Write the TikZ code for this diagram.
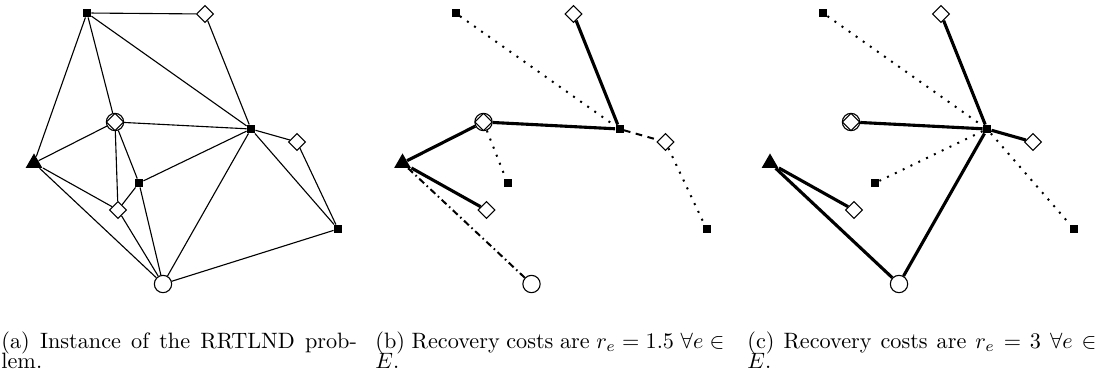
\documentclass[tikz,border=0pt]{standalone}
\usepackage{amsmath,amssymb}
\usepackage{tikz}
\usetikzlibrary{shapes.geometric}

\begin{document}
\begin{tikzpicture}[x=.45pt,y=-.45pt,
  term/.style={rectangle,fill=black,inner sep=0pt,minimum size=3.6pt},
  cust/.style={diamond,draw,fill=white,inner sep=0pt,minimum size=7.8pt,line width=.5pt},
  sink/.style={circle,draw,fill=white,inner sep=0pt,minimum size=7.8pt,line width=.5pt},
  hub/.style={sink,path picture={\draw[line width=.5pt]
    (path picture bounding box.north)--(path picture bounding box.east)--
    (path picture bounding box.south)--(path picture bounding box.west)--cycle;}},
  root/.style={regular polygon,regular polygon sides=3,fill=black,inner sep=0pt,minimum size=8.6pt},
  wire/.style={line width=.5pt},
  treeline/.style={line width=1.4pt},
  spare/.style={line width=.9pt,dash pattern=on .9pt off 3pt},
  dashlink/.style={line width=.9pt,dash pattern=on 3pt off 2.5pt},
  backup/.style={line width=.9pt,dash pattern=on 3pt off 1.6pt on .7pt off 1.6pt},
  subcap/.style={anchor=base west,inner sep=0pt,font=\fontsize{10}{12}\selectfont}]
  \useasboundingbox (0,0) rectangle (1102,380);

  % the same instance in all three panels
  \foreach \p/\dx in {a/0,b/368.5,c/736} {
    \begin{scope}[shift={(\dx,0)}]
      \node[term] (\p t1) at (87,13) {};
      \node[term] (\p t2) at (251,129) {};
      \node[term] (\p t3) at (139,183) {};
      \node[term] (\p t4) at (338,229) {};
      \node[cust] (\p c1) at (205,14) {};
      \node[cust] (\p c2) at (297,142) {};
      \node[cust] (\p c3) at (118,210) {};
      \node[hub] (\p hub) at (115,122) {};
      \node[root] (\p root) at (34,163) {};
      \node[sink] (\p sink) at (163,284) {};
    \end{scope}
  }

  % (a) instance
  \foreach \u/\v in {t1/c1,t1/root,t1/hub,t1/t2,c1/t2,hub/t2,hub/root,hub/c3,hub/t3,
      t2/c2,t2/t3,t2/sink,t2/t4,c2/t4,root/c3,root/sink,t3/c3,t3/sink,c3/sink,sink/t4}
    \draw[wire] (a\u)--(a\v);

  % (b) r_e = 1.5
  \foreach \u/\v in {c1/t2,hub/t2,hub/root,root/c3}
    \draw[treeline] (b\u)--(b\v);
  \foreach \u/\v in {t1/t2,hub/t3,c2/t4}
    \draw[spare] (b\u)--(b\v);
  \draw[dashlink] (bt2)--(bc2);
  \draw[backup] (broot)--(bsink);

  % (c) r_e = 3
  \foreach \u/\v in {c1/t2,hub/t2,t2/c2,t2/sink,root/c3,root/sink}
    \draw[treeline] (c\u)--(c\v);
  \foreach \u/\v in {t1/t2,t2/t3,t2/t4}
    \draw[spare] (c\u)--(c\v);

  % captions, first line set to full width
  \node[subcap] (capa1) at (1,348) {\makebox[160pt][s]{(a) Instance of the RRTLND prob-}};
  \node[subcap] (capa2) at (1,368) {lem.};
  \node[subcap] (capb1) at (375,348) {\makebox[157pt][s]{(b) Recovery costs are $r_e = 1.5$ $\forall e \in$}};
  \node[subcap] (capb2) at (375,368) {$E$.};
  \node[subcap] (capc1) at (747,348) {\makebox[157pt][s]{(c) Recovery costs are $r_e = 3$ $\forall e \in$}};
  \node[subcap] (capc2) at (747,368) {$E$.};
\end{tikzpicture}
\end{document}
